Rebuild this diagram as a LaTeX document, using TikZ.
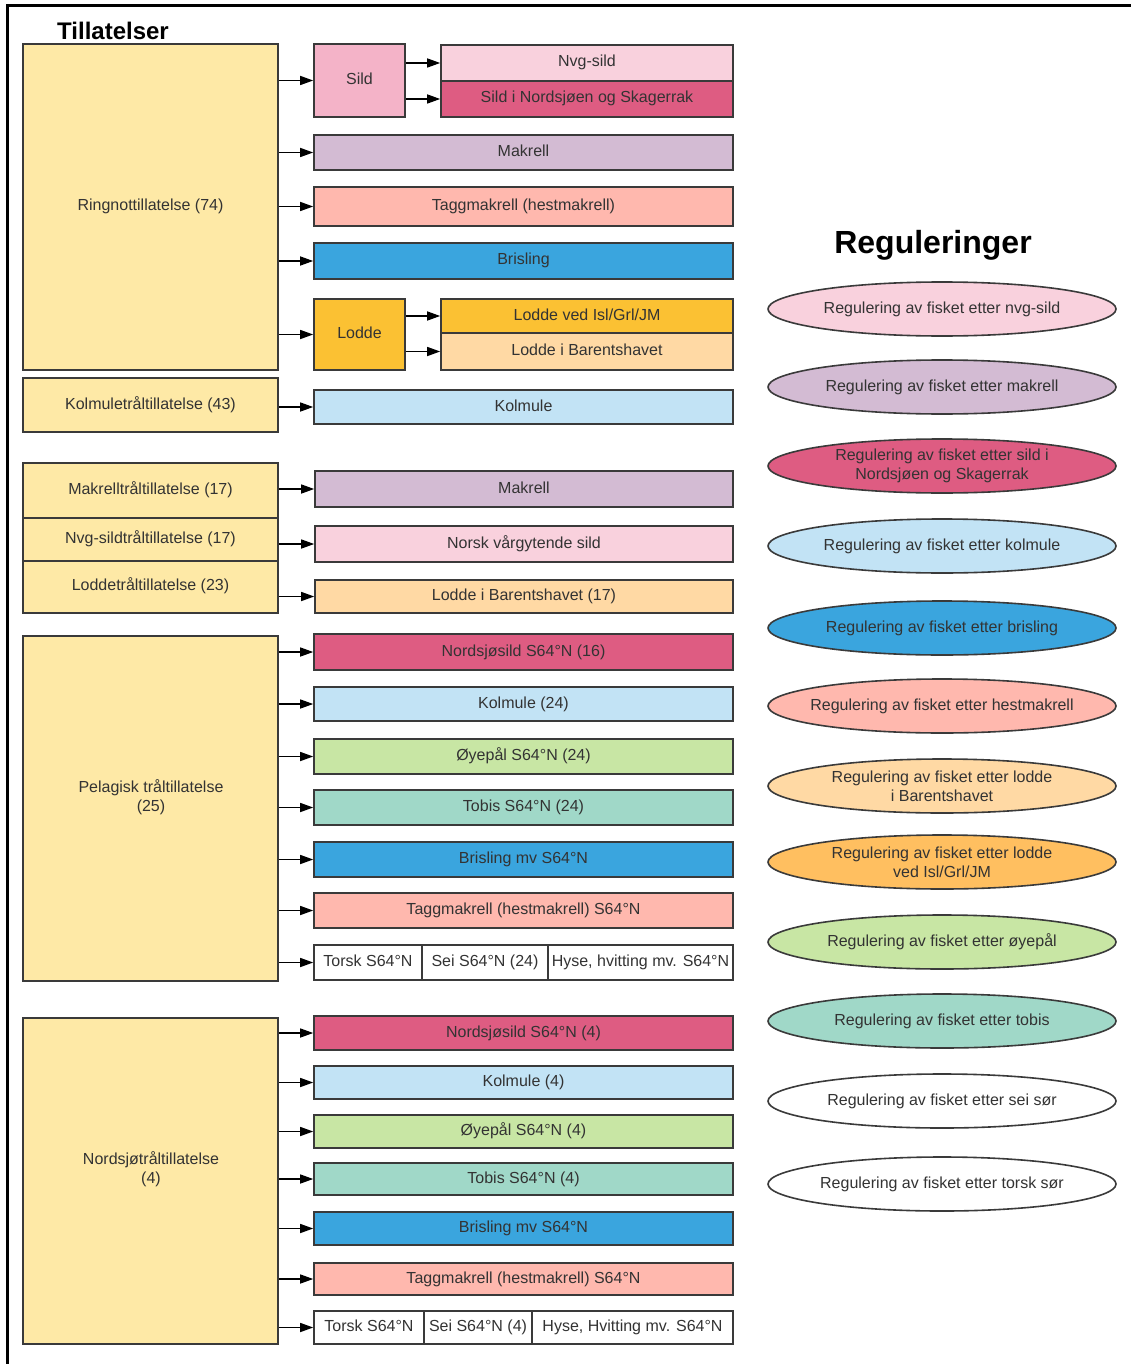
\documentclass[tikz,border=0pt]{standalone}
\usepackage{fontspec}
\setmainfont{Liberation Sans}
\usetikzlibrary{shapes.geometric,arrows.meta}
\definecolor{txt}{HTML}{333333}
\definecolor{edge}{HTML}{3A3A3A}
\definecolor{yel}{HTML}{FEE9A6}
\definecolor{pinkA}{HTML}{F4B3C8}
\definecolor{pinkL}{HTML}{F9D1DD}
\definecolor{rose}{HTML}{DE5C82}
\definecolor{lila}{HTML}{D3BBD3}
\definecolor{salm}{HTML}{FFB8AE}
\definecolor{blueD}{HTML}{3AA5DE}
\definecolor{blueL}{HTML}{C2E3F5}
\definecolor{gold}{HTML}{FBC133}
\definecolor{peach}{HTML}{FFD9A4}
\definecolor{orng}{HTML}{FFBF60}
\definecolor{lime}{HTML}{C8E6A4}
\definecolor{teal}{HTML}{A0D8C8}
\tikzset{
  bxbase/.style={draw=edge, line width=1.6pt, rectangle, inner sep=0pt, text=txt, font=\fontsize{16}{19}\selectfont, align=center},
  bx/.style={bxbase, text height=11.5pt, text depth=3.5pt},
  lbl/.style={text=txt, font=\fontsize{16}{19}\selectfont, align=center, inner sep=0pt},
  ell/.style={draw=edge, line width=1.6pt, ellipse, inner xsep=-30pt, inner ysep=-4pt, minimum width=348, minimum height=54, text=txt, font=\fontsize{16}{19}\selectfont, align=center},
  arr/.style={draw=black, line width=1.4pt, -{Triangle[length=13pt,width=9pt]}},
  ttl/.style={font=\bfseries\fontsize{24}{28}\selectfont, inner sep=0pt}
}
\newcommand\bxn[7]{\node[bx, fill=#6, minimum width={#4-#2}, minimum height={#5-#3}] (#1) at ({(#2+#4)/2},{(#3+#5)/2}) {#7};}
\begin{document}
\begin{tikzpicture}[x=1pt,y=-1pt]
\useasboundingbox (0,0) rectangle (1131,1364);
\fill[white] (0,0) rectangle (1131,1364);
% frame
\draw[line width=3pt] (7,1364) -- (7,6) -- (1131,6);
% titles
\node[ttl] (t1) at (113,31) {Tillatelser};
\node[ttl, font=\bfseries\fontsize{32}{36}\selectfont] (t2) at (933,245) {Reguleringer};
% left boxes
\bxn{L1}{23}{44}{278}{370}{yel}{Ringnottillatelse (74)}
\bxn{L2}{23}{378}{278}{432}{yel}{Kolmuletråltillatelse (43)}
\bxn{L3}{23}{463}{278}{518}{yel}{Makrelltråltillatelse (17)}
\bxn{L4}{23}{518}{278}{561}{yel}{Nvg-sildtråltillatelse (17)}
\node[bx, fill=yel, minimum width=255, minimum height=52] (L5) at (150.5,587) {};
\node[lbl, text height=11.5pt, text depth=3.5pt] (L5t) at (150.5,586) {Loddetråltillatelse (23)};
\node[bxbase, fill=yel, minimum width=255, minimum height=345] (L6) at (150.5,808.5) {};
\node[lbl] (L6t) at (151,797) {Pelagisk tråltillatelse\\(25)};
\node[bxbase, fill=yel, minimum width=255, minimum height=326] (L7) at (150.5,1181) {};
\node[lbl] (L7t) at (151,1169) {Nordsjøtråltillatelse\\(4)};
% right boxes block 1
\bxn{sild}{314}{44}{405}{117}{pinkA}{Sild}
\bxn{nvg}{441}{45}{733}{81}{pinkL}{Nvg-sild}
\bxn{sns}{441}{81}{733}{117}{rose}{Sild i Nordsjøen og Skagerrak}
\bxn{mak1}{314}{135}{733}{170}{lila}{Makrell}
\bxn{tag1}{314}{187}{733}{226}{salm}{Taggmakrell (hestmakrell)}
\bxn{bri1}{314}{243}{733}{279}{blueD}{Brisling}
\bxn{lodde}{314}{299}{405}{370}{gold}{Lodde}
\bxn{lisl}{441}{299}{733}{333}{gold}{Lodde ved Isl/Grl/JM}
\bxn{lbar}{441}{333}{733}{370}{peach}{Lodde i Barentshavet}
\bxn{kol1}{314}{390}{733}{424}{blueL}{Kolmule}
% block 2
\bxn{mak2}{315}{471}{733}{507}{lila}{Makrell}
\bxn{nvs}{315}{526}{733}{562}{pinkL}{Norsk vårgytende sild}
\bxn{lbar2}{315}{580}{733}{613}{peach}{Lodde i Barentshavet (17)}
% block 3
\bxn{p1}{314}{634}{733}{670}{rose}{Nordsjøsild S64°N (16)}
\bxn{p2}{314}{687}{733}{721}{blueL}{Kolmule (24)}
\bxn{p3}{314}{739}{733}{774}{lime}{Øyepål S64°N (24)}
\bxn{p4}{314}{790}{733}{825}{teal}{Tobis S64°N (24)}
\bxn{p5}{314}{842}{733}{877}{blueD}{Brisling mv S64°N}
\bxn{p6}{314}{893}{733}{928}{salm}{Taggmakrell (hestmakrell) S64°N}
\bxn{p7a}{314}{945}{422}{980}{white}{Torsk S64°N}
\bxn{p7b}{422}{945}{548}{980}{white}{Sei S64°N (24)}
\bxn{p7c}{548}{945}{733}{980}{white}{Hyse, hvitting mv. S64°N}
% block 4
\bxn{n1}{314}{1016}{733}{1050}{rose}{Nordsjøsild S64°N (4)}
\bxn{n2}{314}{1066}{733}{1099}{blueL}{Kolmule (4)}
\bxn{n3}{314}{1115}{733}{1148}{lime}{Øyepål S64°N (4)}
\bxn{n4}{314}{1163}{733}{1195}{teal}{Tobis S64°N (4)}
\bxn{n5}{314}{1212}{733}{1245}{blueD}{Brisling mv S64°N}
\bxn{n6}{314}{1263}{733}{1295}{salm}{Taggmakrell (hestmakrell) S64°N}
\bxn{n7a}{314}{1311}{424}{1344}{white}{Torsk S64°N}
\bxn{n7b}{424}{1311}{532}{1344}{white}{Sei S64°N (4)}
\bxn{n7c}{532}{1311}{733}{1344}{white}{Hyse, Hvitting mv. S64°N}
% arrows
\foreach \t in {sild,mak1,tag1,bri1,lodde}{\draw[arr] (L1.east |- \t.west) -- (\t.west);}
\draw[arr] (L2.east |- kol1.west) -- (kol1.west);
\draw[arr] (L3.east |- mak2.west) -- (mak2.west);
\draw[arr] (L4.east |- nvs.west) -- (nvs.west);
\draw[arr] (L5.east |- lbar2.west) -- (lbar2.west);
\draw[arr] (sild.east |- nvg.west) -- (nvg.west);
\draw[arr] (sild.east |- sns.west) -- (sns.west);
\draw[arr] (lodde.east |- lisl.west) -- (lisl.west);
\draw[arr] (lodde.east |- lbar.west) -- (lbar.west);
\foreach \t in {p1,p2,p3,p4,p5,p6,p7a}{\draw[arr] (L6.east |- \t.west) -- (\t.west);}
\foreach \t in {n1,n2,n3,n4,n5,n6,n7a}{\draw[arr] (L7.east |- \t.west) -- (\t.west);}
% ellipses
\node[ell, fill=pinkL] (e1) at (942,309) {Regulering av fisket etter nvg-sild};
\node[ell, fill=lila] (e2) at (942,387) {Regulering av fisket etter makrell};
\node[ell, fill=rose] (e3) at (942,466) {Regulering av fisket etter sild i\\Nordsjøen og Skagerrak};
\node[ell, fill=blueL] (e4) at (942,546) {Regulering av fisket etter kolmule};
\node[ell, fill=blueD] (e5) at (942,628) {Regulering av fisket etter brisling};
\node[ell, fill=salm] (e6) at (942,706) {Regulering av fisket etter hestmakrell};
\node[ell, fill=peach] (e7) at (942,786) {Regulering av fisket etter lodde\\i Barentshavet};
\node[ell, fill=orng] (e8) at (942,862) {Regulering av fisket etter lodde\\ved Isl/Grl/JM};
\node[ell, fill=lime] (e9) at (942,942) {Regulering av fisket etter øyepål};
\node[ell, fill=teal] (e10) at (942,1021) {Regulering av fisket etter tobis};
\node[ell, fill=white] (e11) at (942,1101) {Regulering av fisket etter sei sør};
\node[ell, fill=white] (e12) at (942,1184) {Regulering av fisket etter torsk sør};
\end{tikzpicture}
\end{document}
